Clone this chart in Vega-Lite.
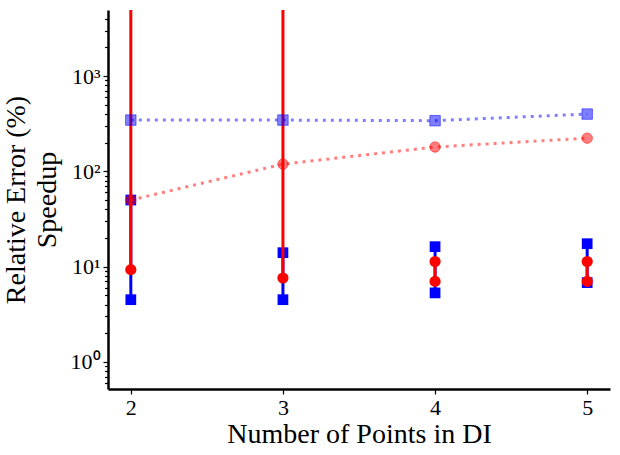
{
  "$schema": "https://vega.github.io/schema/vega-lite/v6.json",
  "width": 502,
  "height": 379,
  "autosize": {"type": "none"},
  "padding": {"left": 108, "top": 10, "right": 10, "bottom": 66},
  "background": "white",
  "config": {
    "view": {"stroke": null},
    "font": "Liberation Serif",
    "axis": {
      "grid": false,
      "domainColor": "black",
      "domainWidth": 2.5,
      "tickColor": "black",
      "tickWidth": 1.2,
      "labelColor": "black",
      "titleColor": "black",
      "titleFontWeight": "normal"
    }
  },
  "datasets": {
    "err": [
      {"n": 2, "series": "blue", "lo": 4.5, "hi": 50},
      {"n": 3, "series": "blue", "lo": 4.5, "hi": 14},
      {"n": 4, "series": "blue", "lo": 5.3, "hi": 16.2},
      {"n": 5, "series": "blue", "lo": 6.8, "hi": 17.4},
      {"n": 2, "series": "red", "lo": 9.3, "hi": 100000},
      {"n": 3, "series": "red", "lo": 7.6, "hi": 100000},
      {"n": 4, "series": "red", "lo": 7.0, "hi": 11.3},
      {"n": 5, "series": "red", "lo": 7.0, "hi": 11.3}
    ],
    "trend": [
      {"n": 2, "series": "blue", "v": 345},
      {"n": 3, "series": "blue", "v": 345},
      {"n": 4, "series": "blue", "v": 340},
      {"n": 5, "series": "blue", "v": 399},
      {"n": 2, "series": "red", "v": 50},
      {"n": 3, "series": "red", "v": 119},
      {"n": 4, "series": "red", "v": 180},
      {"n": 5, "series": "red", "v": 223}
    ]
  },
  "encoding": {
    "x": {
      "field": "n",
      "type": "quantitative",
      "scale": {"domain": [1.85, 5.15], "nice": false, "zero": false},
      "axis": {
        "values": [2, 3, 4, 5],
        "format": "d",
        "title": "Number of Points in DI",
        "labelFont": "Liberation Serif",
        "labelFontSize": 22,
        "titleFont": "Liberation Serif",
        "titleFontSize": 28,
        "tickSize": 5,
        "labelPadding": 3,
        "titlePadding": 2
      }
    }
  },
  "layer": [
    {
      "data": {"name": "err"},
      "transform": [{"filter": "datum.series == 'blue'"}],
      "mark": {"type": "rule", "color": "#0000ff", "strokeWidth": 3, "clip": true},
      "encoding": {
        "y": {
          "field": "lo",
          "type": "quantitative",
          "scale": {"type": "log", "domain": [0.52, 4930], "nice": false},
          "axis": {
            "values": [0.6, 0.7, 0.8, 0.9, 1, 2, 3, 4, 5, 6, 7, 8, 9, 10, 20, 30, 40, 50, 60, 70, 80, 90, 100, 200, 300, 400, 500, 600, 700, 800, 900, 1000, 2000, 3000, 4000],
            "tickCount": 100,
            "labelExpr": "datum.value == 1 ? '10⁰' : datum.value == 10 ? '10¹' : datum.value == 100 ? '10²' : datum.value == 1000 ? '10³' : ''",
            "labelOverlap": false,
            "labelBound": false,
            "tickSize": {"condition": {"test": "datum.value == 1 || datum.value == 10 || datum.value == 100 || datum.value == 1000", "value": 5}, "value": 3.5},
            "labelFont": "Liberation Serif",
            "labelFontSize": 22,
            "titleFont": "Liberation Serif",
            "titleFontSize": 28,
            "title": ["Relative Error (%)", "Speedup"],
            "titleLineHeight": 31,
            "labelPadding": 3,
            "titlePadding": 9
          }
        },
        "y2": {"field": "hi"}
      }
    },
    {
      "data": {"name": "err"},
      "transform": [
        {"filter": "datum.series == 'blue'"},
        {"fold": ["lo", "hi"], "as": ["end", "val"]}
      ],
      "mark": {"type": "point", "shape": "square", "filled": true, "color": "#0000ff", "opacity": 1, "size": 115, "clip": true},
      "encoding": {"y": {"field": "val", "type": "quantitative"}}
    },
    {
      "data": {"name": "err"},
      "transform": [{"filter": "datum.series == 'red'"}],
      "mark": {"type": "rule", "color": "#ff0000", "strokeWidth": 3, "clip": true},
      "encoding": {
        "y": {"field": "lo", "type": "quantitative"},
        "y2": {"field": "hi"}
      }
    },
    {
      "data": {"name": "err"},
      "transform": [
        {"filter": "datum.series == 'red'"},
        {"fold": ["lo", "hi"], "as": ["end", "val"]}
      ],
      "mark": {"type": "point", "shape": "circle", "filled": true, "color": "#ff0000", "opacity": 1, "size": 125, "clip": true},
      "encoding": {"y": {"field": "val", "type": "quantitative"}}
    },
    {
      "data": {"name": "trend"},
      "transform": [{"filter": "datum.series == 'blue'"}],
      "mark": {"type": "line", "color": "#0000ff", "strokeWidth": 3, "strokeDash": [3, 5], "opacity": 0.5},
      "encoding": {"y": {"field": "v", "type": "quantitative"}}
    },
    {
      "data": {"name": "trend"},
      "transform": [{"filter": "datum.series == 'blue'"}],
      "mark": {"type": "point", "shape": "square", "filled": true, "fill": "#0000ff", "fillOpacity": 0.5, "stroke": "#0000ff", "strokeOpacity": 0.5, "strokeWidth": 1, "size": 110},
      "encoding": {"y": {"field": "v", "type": "quantitative"}}
    },
    {
      "data": {"name": "trend"},
      "transform": [{"filter": "datum.series == 'red'"}],
      "mark": {"type": "line", "color": "#ff0000", "strokeWidth": 3, "strokeDash": [3, 5], "opacity": 0.5},
      "encoding": {"y": {"field": "v", "type": "quantitative"}}
    },
    {
      "data": {"name": "trend"},
      "transform": [{"filter": "datum.series == 'red'"}],
      "mark": {"type": "point", "shape": "circle", "filled": true, "fill": "#ff0000", "fillOpacity": 0.5, "stroke": "#ff0000", "strokeOpacity": 0.5, "strokeWidth": 1, "size": 110},
      "encoding": {"y": {"field": "v", "type": "quantitative"}}
    }
  ]
}
